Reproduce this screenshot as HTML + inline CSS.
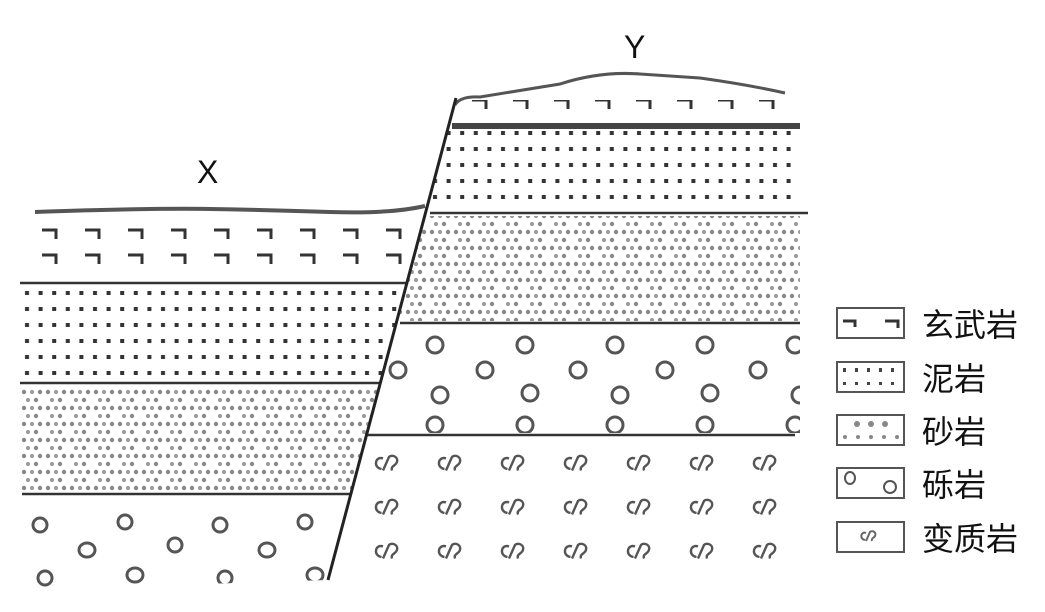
<!DOCTYPE html>
<html><head><meta charset="utf-8"><style>
html,body{margin:0;padding:0;background:#fff;}
svg{display:block}
text{font-family:"Liberation Sans","Noto Sans CJK SC",sans-serif;fill:#111}
</style></head><body>
<svg width="1045" height="612" viewBox="0 0 1045 612" xmlns="http://www.w3.org/2000/svg">
<defs>
<pattern id="bas" x="40" y="228" width="43" height="25" patternUnits="userSpaceOnUse">
<path d="M2,2 h14 v9" fill="none" stroke="#333" stroke-width="3"/>
</pattern>
<pattern id="bas2" x="470" y="97" width="41" height="60" patternUnits="userSpaceOnUse">
<path d="M2,3 h14 v9" fill="none" stroke="#333" stroke-width="3"/>
</pattern>
<pattern id="mud" x="22" y="289" width="13.6" height="16" patternUnits="userSpaceOnUse">
<rect x="3" y="2" width="4" height="4" fill="#333"/>
</pattern>
<pattern id="sand" x="20" y="388" width="24" height="16" patternUnits="userSpaceOnUse">
<circle cx="4" cy="4" r="2.2" fill="#888"/><circle cx="12" cy="4" r="2" fill="#999"/><circle cx="20" cy="4" r="2.2" fill="#888"/>
<circle cx="8" cy="12" r="2" fill="#999"/><circle cx="16" cy="12" r="2.2" fill="#888"/>
</pattern>
<pattern id="cong" x="25" y="500" width="180" height="90" patternUnits="userSpaceOnUse">
<g fill="none" stroke="#555" stroke-width="3">
<ellipse cx="15" cy="25" rx="7" ry="7"/><ellipse cx="100" cy="22" rx="7" ry="7"/><ellipse cx="62" cy="50" rx="8" ry="7"/>
<ellipse cx="150" cy="45" rx="7" ry="7"/><ellipse cx="20" cy="78" rx="7" ry="7"/><ellipse cx="110" cy="75" rx="8" ry="7"/>
</g></pattern>
<pattern id="cong2" x="380" y="325" width="180" height="80" patternUnits="userSpaceOnUse">
<g fill="none" stroke="#555" stroke-width="3">
<ellipse cx="55" cy="20" rx="8" ry="8"/><ellipse cx="145" cy="20" rx="8" ry="8"/><ellipse cx="18" cy="45" rx="8" ry="8"/>
<ellipse cx="105" cy="45" rx="8" ry="8"/><ellipse cx="60" cy="70" rx="8" ry="8"/><ellipse cx="150" cy="68" rx="8" ry="8"/>
</g></pattern>
<pattern id="meta" x="372" y="452" width="63" height="44" patternUnits="userSpaceOnUse">
<g transform="translate(2,2) scale(1.5)">
<path d="M6,3 c-5,-2 -7,6 -1,7 M6,11 l4,-9 c2,-2 7,0 5,4 c-1,2 -4,2 -3,5" fill="none" stroke="#555" stroke-width="1.6"/>
</g>
</pattern>
<clipPath id="L"><polygon points="20,214 425,208 328,580 20,590"/></clipPath>
<clipPath id="R"><polygon points="455,100 800,100 800,575 328,575"/></clipPath>
</defs>

<g clip-path="url(#L)">
<rect x="20" y="222" width="400" height="52" fill="url(#bas)"/>
<rect x="20" y="285" width="400" height="96" fill="url(#mud)"/>
<rect x="20" y="386" width="400" height="106" fill="url(#sand)"/>
<rect x="20" y="497" width="400" height="95" fill="url(#cong)"/>
</g>
<path d="M35,212 Q150,208 210,209 T330,212 T425,206" fill="none" stroke="#555" stroke-width="4"/>
<line x1="20" y1="283" x2="408" y2="283" stroke="#333" stroke-width="2.5"/>
<line x1="20" y1="383" x2="380" y2="383" stroke="#333" stroke-width="2.5"/>
<line x1="22" y1="494" x2="351" y2="494" stroke="#333" stroke-width="2.5"/>

<g clip-path="url(#R)">
<rect x="455" y="97" width="340" height="25" fill="url(#bas2)"/>
<rect x="420" y="131" width="390" height="80" fill="url(#mud)"/>
<rect x="400" y="216" width="410" height="105" fill="url(#sand)"/>
<rect x="380" y="325" width="430" height="108" fill="url(#cong2)"/>
<rect x="340" y="438" width="470" height="135" fill="url(#meta)"/>
</g>
<path d="M455,105 Q460,96 480,97 L560,84 Q600,71 640,74 L700,78 Q750,85 785,93" fill="none" stroke="#555" stroke-width="3"/>
<line x1="452" y1="126" x2="800" y2="126" stroke="#444" stroke-width="6"/>
<line x1="430" y1="213" x2="808" y2="213" stroke="#333" stroke-width="2.5"/>
<line x1="400" y1="323" x2="800" y2="323" stroke="#333" stroke-width="2.5"/>
<line x1="365" y1="435" x2="795" y2="435" stroke="#333" stroke-width="2.5"/>

<line x1="456" y1="98" x2="328" y2="580" stroke="#222" stroke-width="3"/>

<text x="197" y="183" font-size="32">X</text>
<text x="624" y="58" font-size="32">Y</text>

<g stroke="#555" stroke-width="2" fill="none">
<rect x="837" y="308" width="67" height="30"/>
<rect x="837" y="362" width="67" height="30"/>
<rect x="837" y="415" width="67" height="30"/>
<rect x="837" y="468" width="67" height="30"/>
<rect x="837" y="522" width="67" height="30"/>
<path d="M843,321 h12 v6 M885,321 h13 v7" stroke="#333" stroke-width="3"/>
<ellipse cx="850" cy="478" rx="5" ry="6"/><ellipse cx="890" cy="487" rx="6" ry="6"/>
<path d="M866,533 c-5,-2 -7,6 -1,7 M866,541 l4,-9 c2,-2 7,0 5,4 c-1,2 -4,2 -3,5" stroke="#666"/>
</g>
<g fill="#444">
<rect x="843" y="368" width="3" height="4"/><rect x="855" y="368" width="3" height="4"/><rect x="867" y="368" width="3" height="4"/><rect x="879" y="368" width="3" height="4"/><rect x="891" y="368" width="3" height="4"/>
<rect x="843" y="382" width="3" height="3"/><rect x="855" y="382" width="3" height="3"/><rect x="867" y="382" width="3" height="3"/><rect x="879" y="382" width="3" height="3"/><rect x="891" y="382" width="3" height="3"/>
</g>
<g fill="#888">
<circle cx="857" cy="424" r="3"/><circle cx="871" cy="424" r="3"/><circle cx="885" cy="424" r="3"/>
<circle cx="845" cy="437" r="2"/><circle cx="858" cy="437" r="2"/><circle cx="871" cy="437" r="2"/><circle cx="884" cy="437" r="2"/><circle cx="897" cy="437" r="2"/>
</g>
<g font-size="32">
<text x="922" y="336">玄武岩</text>
<text x="922" y="390">泥岩</text>
<text x="922" y="443">砂岩</text>
<text x="922" y="496">砾岩</text>
<text x="922" y="550">变质岩</text>
</g>
</svg>
</body></html>
